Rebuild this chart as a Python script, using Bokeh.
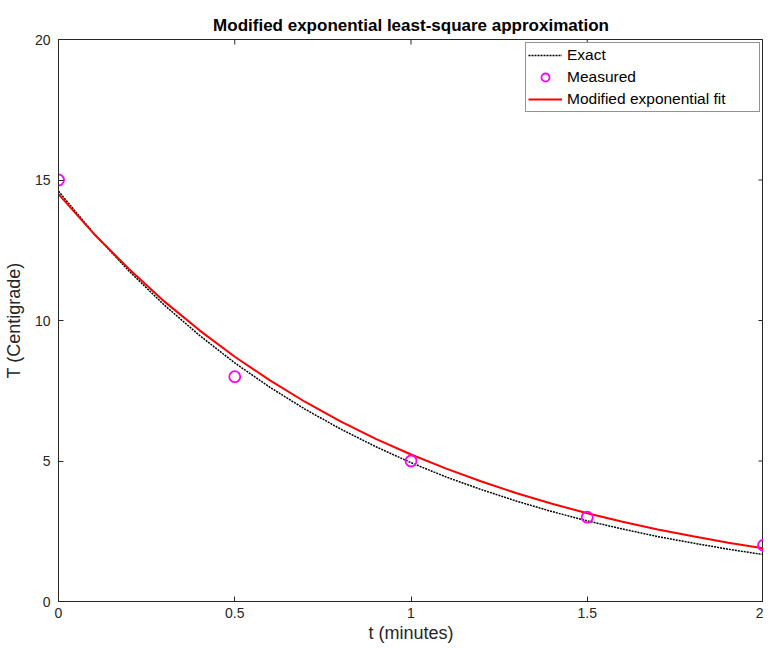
import math
from bokeh.plotting import figure
from bokeh.models import Range1d, FixedTicker, Legend, LegendItem, ColumnDataSource
from bokeh.embed import file_html
from bokeh.resources import INLINE

# Data
t_curve = [0.0, 0.1, 0.2, 0.3, 0.4, 0.5, 0.6, 0.7, 0.8, 0.9, 1.0,
           1.1, 1.2, 1.3, 1.4, 1.5, 1.6, 1.7, 1.8, 1.9, 2.0]
T_exact = [14.60, 13.10, 11.76, 10.55, 9.47, 8.49, 7.62, 6.84, 6.14, 5.51, 4.94,
           4.43, 3.98, 3.57, 3.20, 2.87, 2.58, 2.31, 2.08, 1.86, 1.67]
T_fit = [14.50, 13.09, 11.83, 10.68, 9.65, 8.71, 7.87, 7.10, 6.41, 5.79, 5.23,
         4.73, 4.27, 3.85, 3.48, 3.14, 2.84, 2.56, 2.32, 2.09, 1.89]
t_meas = [0.0, 0.5, 1.0, 1.5, 2.0]
T_meas = [15.0, 8.0, 5.0, 3.0, 2.0]
x_ticks = [0, 0.5, 1, 1.5, 2]
y_ticks = [0, 5, 10, 15, 20]
x_lim = (0, 2)
y_lim = (0, 20)

FONT = "Liberation Sans"
TXT = "#262626"

curve_src = ColumnDataSource(dict(t=t_curve, exact=T_exact, fit=T_fit))
meas_src = ColumnDataSource(dict(t=t_meas, T=T_meas))

p = figure(frame_width=705, frame_height=562, output_backend="svg", toolbar_location=None,
           x_range=Range1d(*x_lim), y_range=Range1d(*y_lim),
           min_border_left=52, min_border_top=39, min_border_right=0, min_border_bottom=47,
           title="Modified exponential least-square approximation")
p.title.text_font = FONT
p.title.text_font_size = "17px"
p.title.text_font_style = "bold"
p.title.text_color = "black"
p.title.align = "center"

p.xgrid.visible = False
p.ygrid.visible = False
p.outline_line_color = TXT
p.outline_line_width = 1
p.background_fill_color = "white"
p.border_fill_color = "white"

r_exact = p.line("t", "exact", source=curve_src, line_color="black", line_width=1.5, line_dash="2 1")
r_fit = p.line("t", "fit", source=curve_src, line_color="red", line_width=2)
r_meas = p.scatter("t", "T", source=meas_src, marker="circle", size=11, fill_color=None,
                   line_color="magenta", line_width=1.8)

# mirrored inward ticks on the top and right edges of the box
p.ray(x=x_ticks, y=[y_lim[1]] * len(x_ticks), length=5, length_units="screen",
      angle=-math.pi / 2, line_color=TXT, line_width=1)
p.ray(x=[x_lim[1]] * len(y_ticks), y=y_ticks, length=5, length_units="screen",
      angle=math.pi, line_color=TXT, line_width=1)

def style_axis(ax, ticks):
    ax.ticker = FixedTicker(ticks=ticks)
    ax.major_tick_in = 5
    ax.major_tick_out = 0
    ax.minor_tick_line_color = None
    ax.axis_line_color = TXT
    ax.major_tick_line_color = TXT
    ax.major_label_text_font = FONT
    ax.major_label_text_font_size = "14px"
    ax.major_label_text_color = TXT
    ax.axis_label_text_font = FONT
    ax.axis_label_text_font_size = "18px"
    ax.axis_label_text_font_style = "normal"
    ax.axis_label_text_color = TXT

style_axis(p.xaxis[0], x_ticks)
style_axis(p.yaxis[0], y_ticks)
p.xaxis[0].axis_label = "t (minutes)"
p.yaxis[0].axis_label = "T (Centigrade)"
p.xaxis[0].major_label_standoff = 6
p.xaxis[0].axis_label_standoff = 2
p.yaxis[0].major_label_standoff = 8
p.yaxis[0].axis_label_standoff = 8

legend = Legend(items=[
    LegendItem(label="Exact", renderers=[r_exact]),
    LegendItem(label="Measured", renderers=[r_meas]),
    LegendItem(label="Modified exponential fit", renderers=[r_fit]),
], location="top_right")
legend.margin = 3
legend.padding = 2
legend.spacing = 2
legend.glyph_width = 34
legend.glyph_height = 20
legend.label_height = 20
legend.label_width = 190
legend.label_standoff = 5
legend.label_text_font = FONT
legend.label_text_font_size = "15.5px"
legend.label_text_color = "black"
legend.border_line_color = TXT
legend.border_line_width = 1
legend.background_fill_color = "white"
legend.background_fill_alpha = 1
p.add_layout(legend)

open("out.html", "w").write(file_html(p, INLINE))
